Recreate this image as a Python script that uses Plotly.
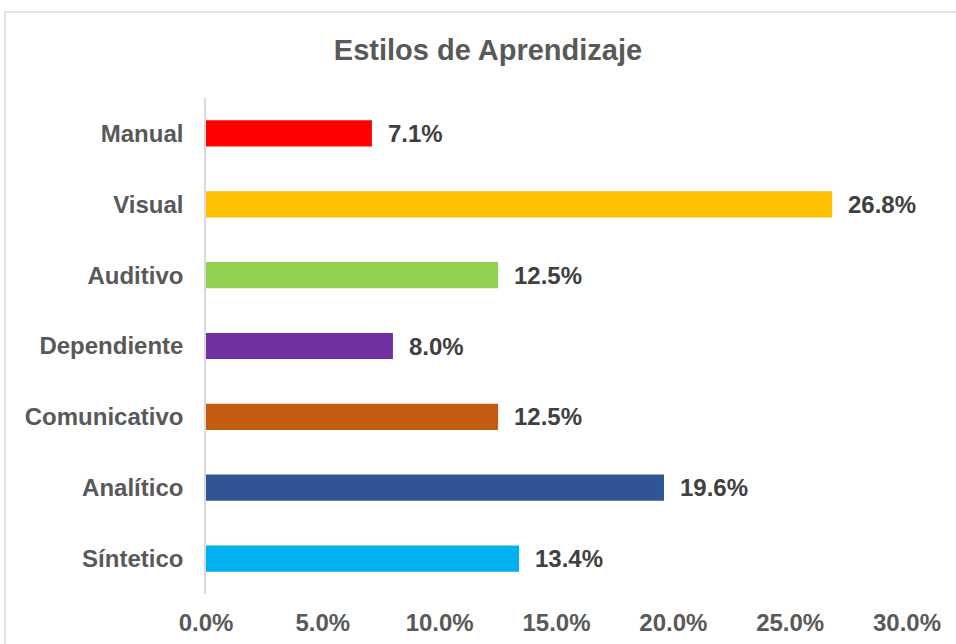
import plotly.graph_objects as go

categories = ["Manual", "Visual", "Auditivo", "Dependiente", "Comunicativo", "Analítico", "Síntetico"]
values = [0.071, 0.268, 0.125, 0.080, 0.125, 0.196, 0.134]
colors = ["#FF0000", "#FFC000", "#92D050", "#7030A0", "#C55A11", "#2F5597", "#00B0F0"]
tick_vals = [0.0, 0.05, 0.10, 0.15, 0.20, 0.25, 0.30]
tick_text = ["0.0%", "5.0%", "10.0%", "15.0%", "20.0%", "25.0%", "30.0%"]
title_text = "Estilos de Aprendizaje"

FONT = "Liberation Sans, Arial, sans-serif"

fig = go.Figure()
fig.add_trace(go.Bar(
    y=categories, x=values, orientation="h",
    marker=dict(color=colors, line=dict(width=0)),
    hoverinfo="skip",
))

for c, v in zip(categories, values):
    fig.add_annotation(
        x=v, y=c, xref="x", yref="y",
        text="<b>%.1f%%</b>" % (v * 100),
        showarrow=False, xanchor="left", yanchor="middle", xshift=14,
        font=dict(family=FONT, size=24, color="#404040"),
    )

fig.add_shape(type="rect", xref="paper", yref="paper",
              x0=-0.2867, x1=1.08, y0=-0.12, y1=1.1734,
              line=dict(color="#D9D9D9", width=1.5), fillcolor="rgba(0,0,0,0)", layer="below")

fig.update_layout(
    width=956, height=644,
    margin=dict(l=206, r=49, t=98, b=50, autoexpand=False),
    paper_bgcolor="white", plot_bgcolor="white",
    showlegend=False,
    bargap=0.63,
    title=dict(text="<b>" + title_text + "</b>", x=488/956, xanchor="center",
               y=1 - 50/644, yanchor="middle", xref="container",
               font=dict(family=FONT, size=29, color="#595959")),
    xaxis=dict(range=[0, 0.30], tickvals=tick_vals, ticktext=["<b>%s</b>" % t for t in tick_text],
               showgrid=False, zeroline=False, showline=False, automargin=False,
               ticks="outside", ticklen=7, tickcolor="rgba(0,0,0,0)",
               tickfont=dict(family=FONT, size=24, color="#595959"), fixedrange=True),
    yaxis=dict(autorange="reversed", showgrid=False, zeroline=False, automargin=False,
               showline=True, linecolor="#D9D9D9", linewidth=1.5,
               ticks="outside", ticklen=16, tickcolor="rgba(0,0,0,0)",
               tickvals=categories, ticktext=["<b>%s</b>" % c for c in categories],
               tickfont=dict(family=FONT, size=24, color="#595959"), fixedrange=True),
)

fig.write_html("out.html")
